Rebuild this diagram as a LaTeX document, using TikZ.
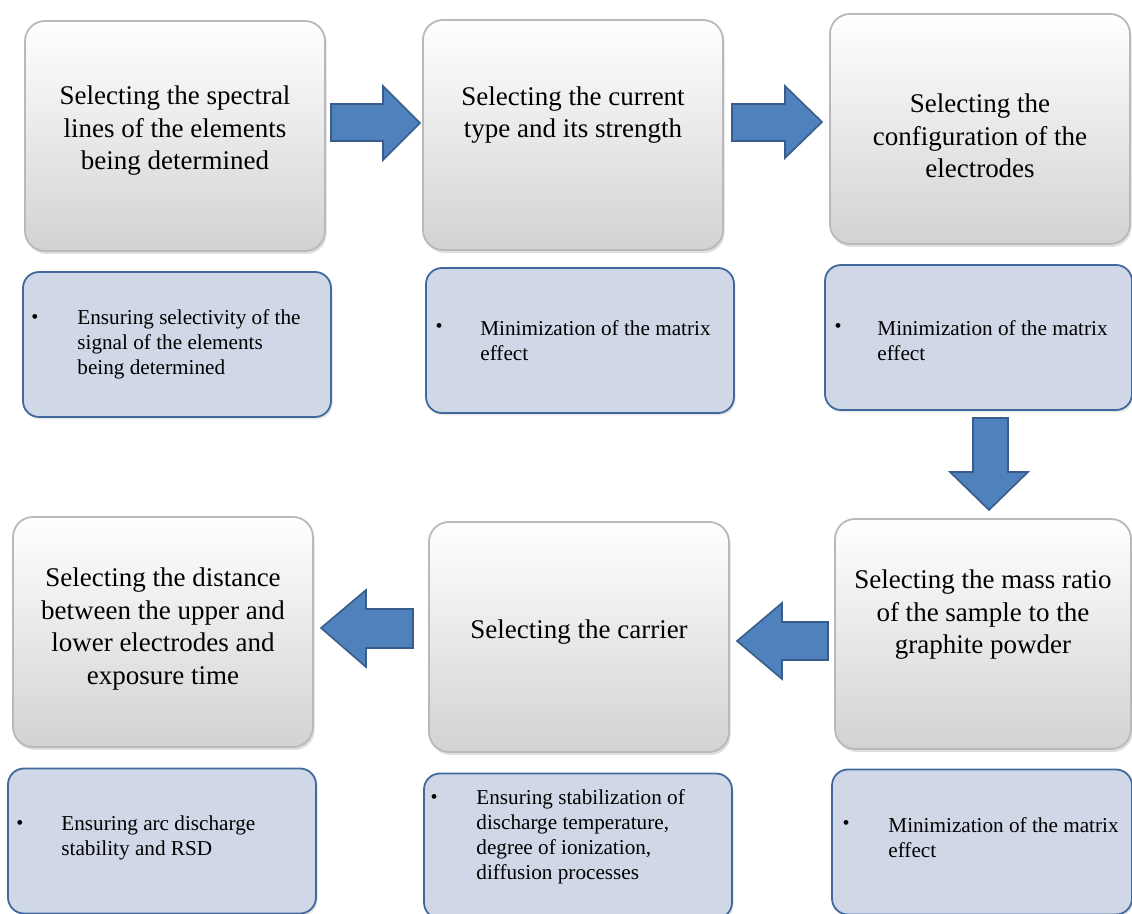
\documentclass[tikz,border=0pt]{standalone}
\usepackage{fontspec}
\setmainfont{Liberation Serif}
\usetikzlibrary{shadows}
\definecolor{arrowfill}{RGB}{79,129,189}
\definecolor{arrowdraw}{RGB}{56,93,138}
\definecolor{bluefill}{RGB}{208,216,232}
\definecolor{bluedraw}{RGB}{65,105,158}
\tikzset{
  graybox/.style={rounded corners=10pt, draw=gray!55, line width=0.9pt,
    top color=white, bottom color=gray!35, minimum width=150pt, minimum height=115pt,
    drop shadow={opacity=0.25, shadow xshift=0.8pt, shadow yshift=-1.5pt}},
  bluebox/.style={rounded corners=8pt, draw=bluedraw, line width=0.9pt,
    fill=bluefill, minimum width=154pt, minimum height=72.5pt,
    drop shadow={opacity=0.2, shadow xshift=0.8pt, shadow yshift=-1.2pt}},
  bigtext/.style={align=center, font=\fontsize{13.5}{16.25}\selectfont, inner sep=0pt},
  smalltext/.style={align=left, anchor=west, font=\fontsize{10.6}{12.5}\selectfont, inner sep=0pt},
  bul/.style={font=\fontsize{10}{12}\selectfont, inner sep=0pt},
  blockarrow/.style={fill=arrowfill, draw=arrowdraw, line width=0.8pt, line join=miter}
}
\begin{document}
\begin{tikzpicture}[x=0.5pt,y=-0.5pt]
\useasboundingbox (0,0) rectangle (1132,914);
% gray step boxes
\node[graybox] (B1) at (175,136) {};
\node[graybox] (B2) at (573,135) {};
\node[graybox] (B3) at (980,129) {};
\node[graybox] (B4) at (163,632) {};
\node[graybox] (B5) at (579,637) {};
\node[graybox, minimum width=148pt] (B6) at (983,634) {};
\node[bigtext] (T1) at (B1.center) [yshift=2.5pt] {Selecting the spectral\\lines of the elements\\being determined};
\node[bigtext] (T2) at (B2.center) [yshift=10pt] {Selecting the current\\type and its strength};
\node[bigtext] (T3) at (B3.center) [yshift=-3.5pt] {Selecting the\\configuration of the\\electrodes};
\node[bigtext] (T4) at (B4.center) [yshift=1.5pt] {Selecting the distance\\between the upper and\\lower electrodes and\\exposure time};
\node[bigtext] (T5) at (B5.center) [yshift=2.5pt] {Selecting the carrier};
\node[bigtext] (T6) at (B6.center) [yshift=9.5pt] {Selecting the mass ratio\\of the sample to the\\graphite powder};
% blue boxes
\node[bluebox] (b1) at (177,344.5) {};
\node[bluebox] (b2) at (580,340.5) {};
\node[bluebox, minimum width=153.5pt] (b3) at (978.5,337.5) {};
\node[bluebox] (b4) at (162,841) {};
\node[bluebox] (b5) at (578,846) {};
\node[bluebox, minimum width=150pt] (b6) at (982,842) {};
\node[bul] (u1) at (35,319) {\textbullet};
\node[smalltext] (s1) at (77,344) {Ensuring selectivity of the\\signal of the elements\\being determined};
\node[bul] (u2) at (439,328) {\textbullet};
\node[smalltext] (s2) at (480,340.5) {Minimization of the matrix\\effect};
\node[bul] (u3) at (838,328) {\textbullet};
\node[smalltext] (s3) at (877,340.5) {Minimization of the matrix\\effect};
\node[bul] (u4) at (20,825) {\textbullet};
\node[smalltext] (s4) at (61,837.5) {Ensuring arc discharge\\stability and RSD};
\node[bul] (u5) at (434,799) {\textbullet};
\node[smalltext] (s5) at (476,837) {Ensuring stabilization of\\discharge temperature,\\degree of ionization,\\diffusion processes};
\node[bul] (u6) at (846,825) {\textbullet};
\node[smalltext] (s6) at (888,837.5) {Minimization of the matrix\\effect};
% block arrows
\draw[blockarrow] (331,104) -- (383,104) -- (383,86) -- (420,123) -- (383,160) -- (383,141) -- (331,141) -- cycle;
\draw[blockarrow] (732,104) -- (785,104) -- (785,86) -- (822,122) -- (785,158) -- (785,141) -- (732,141) -- cycle;
\draw[blockarrow] (973,418) -- (1008,418) -- (1008,472) -- (1028,472) -- (989,510) -- (950,472) -- (973,472) -- cycle;
\draw[blockarrow] (828,622) -- (782,622) -- (782,603) -- (737,641) -- (782,679) -- (782,660) -- (828,660) -- cycle;
\draw[blockarrow] (413,609) -- (366,609) -- (366,590) -- (321,628) -- (366,667) -- (366,648) -- (413,648) -- cycle;
\end{tikzpicture}
\end{document}
